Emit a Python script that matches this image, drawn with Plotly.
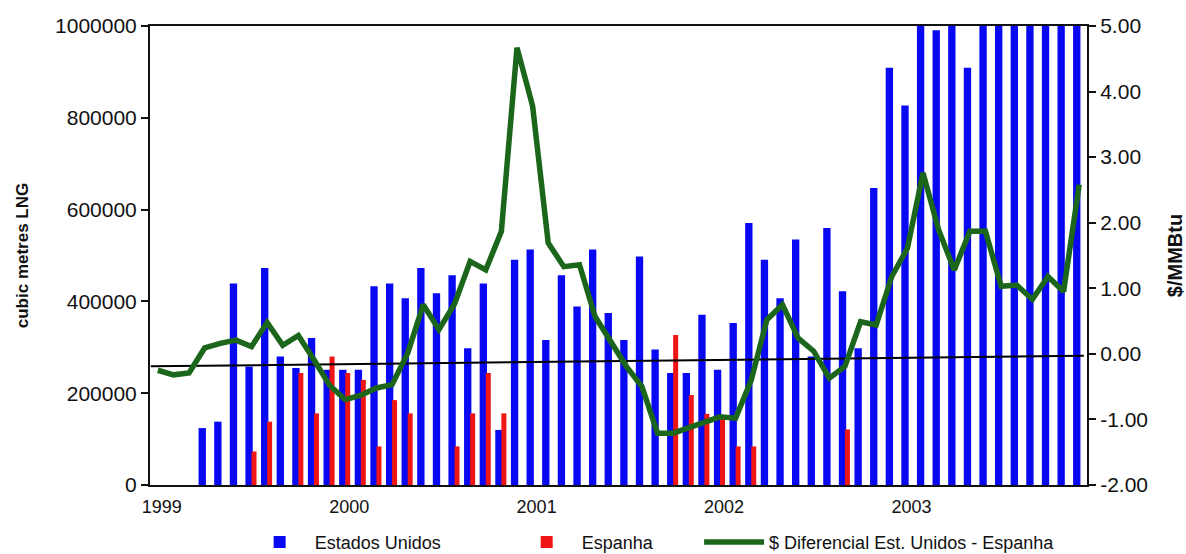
import plotly.graph_objects as go

# ---- data ----
month_index = list(range(60))          # Jan 1999 ... Dec 2003
year_labels = ["1999", "2000", "2001", "2002", "2003"]
year_ticks = [0, 12, 24, 36, 48]

usa = [None, None, None, 124000, 138000, 439000, 258000, 473000, 280000, 255000,
       320000, 251000, 251000, 251000, 433000, 439000, 407000, 473000, 418000, 457000,
       298000, 439000, 120000, 491000, 513000, 316000, 457000, 389000, 513000, 375000,
       316000, 498000, 295000, 244000, 244000, 371000, 251000, 353000, 571000, 491000,
       407000, 535000, 280000, 560000, 422000, 298000, 647000, 909000, 827000, 1010000,
       991000, 1010000, 909000, 1010000, 1010000, 1010000, 1010000, 1010000, 1010000, 1010000]

spain = [None, None, None, None, None, None, 73000, 138000, None, 244000,
         156000, 280000, 244000, 229000, 84000, 185000, 156000, None, None, 84000,
         156000, 244000, 156000, None, None, None, None, None, None, None,
         None, None, None, 327000, 196000, 155000, 150000, 84000, 84000, None,
         None, None, None, None, 121000, None, None, None, None, None,
         None, None, None, None, None, None, None, None, None, None]

diff = [-0.25, -0.32, -0.29, 0.09, 0.16, 0.21, 0.11, 0.48, 0.13, 0.28,
        -0.09, -0.48, -0.70, -0.63, -0.52, -0.47, 0.01, 0.75, 0.37, 0.76,
        1.41, 1.28, 1.87, 4.67, 3.78, 1.69, 1.33, 1.36, 0.57, 0.19,
        -0.19, -0.50, -1.21, -1.21, -1.13, -1.06, -0.96, -0.98, -0.40, 0.52,
        0.75, 0.24, 0.04, -0.37, -0.19, 0.49, 0.44, 1.18, 1.61, 2.76,
        1.89, 1.28, 1.87, 1.87, 1.03, 1.05, 0.83, 1.18, 0.95, 2.58]

trend_x = [-0.45, 59.3]
trend_vals = [-0.19, -0.03]

left_ticks = [0, 200000, 400000, 600000, 800000, 1000000]
left_labels = ["0", "200000", "400000", "600000", "800000", "1000000"]
right_ticks = [-2, -1, 0, 1, 2, 3, 4, 5]
right_labels = ["-2.00", "-1.00", "0.00", "1.00", "2.00", "3.00", "4.00", "5.00"]

BLUE = "#0808f2"
RED = "#f01515"
GREEN = "#1b661b"
FONT = "Arial, Liberation Sans, sans-serif"

fig = go.Figure()
fig.add_trace(go.Bar(x=month_index, y=usa, name="Estados Unidos",
                     marker=dict(color=BLUE, line=dict(width=0)),
                     offset=-0.39, width=0.47, cliponaxis=False, legend="legend"))
fig.add_trace(go.Bar(x=month_index, y=spain, name="Espanha",
                     marker=dict(color=RED, line=dict(width=0)),
                     offset=0.0, width=0.32, legend="legend2"))
fig.add_trace(go.Scatter(x=trend_x, y=trend_vals, mode="lines", yaxis="y2",
                         line=dict(color="black", width=2), showlegend=False,
                         hoverinfo="skip"))
fig.add_trace(go.Scatter(x=month_index, y=diff, mode="lines", yaxis="y2",
                         name="$ Diferencial Est. Unidos - Espanha",
                         line=dict(color=GREEN, width=5.5), legend="legend3"))

legend_common = dict(orientation="h", yanchor="middle", xanchor="left",
                     y=-0.125, bgcolor="rgba(0,0,0,0)", itemwidth=60,
                     font=dict(family=FONT, size=18, color="#111"))

fig.update_layout(
    width=1186, height=554,
    margin=dict(l=150, r=99, t=26, b=69, autoexpand=False),
    paper_bgcolor="white", plot_bgcolor="white",
    barmode="overlay",
    font=dict(family=FONT, color="#111"),
    legend=dict(x=0.101, **legend_common),
    legend2=dict(x=0.386, **legend_common),
    legend3=dict(x=0.586, **legend_common),
    xaxis=dict(range=[-0.5, 59.5], tickvals=year_ticks, ticktext=year_labels,
               ticks="", showgrid=False, zeroline=False,
               showline=True, linecolor="#111", linewidth=2, mirror=True,
               tickfont=dict(size=18), ticklabelshift=4, ticklabelstandoff=4),
    yaxis=dict(range=[0, 1000000], tickvals=left_ticks, ticktext=left_labels,
               ticks="outside", ticklen=7, tickwidth=1.5, tickcolor="#111",
               showgrid=False, zeroline=False,
               showline=True, linecolor="#111", linewidth=2,
               tickfont=dict(size=21),
               title=dict(text="<b>cubic metres LNG</b>", font=dict(size=17),
                          standoff=22)),
    yaxis2=dict(overlaying="y", side="right", range=[-2, 5],
                tickvals=right_ticks, ticktext=right_labels,
                ticks="outside", ticklen=7, tickwidth=1.5, tickcolor="#111",
                showgrid=False, zeroline=False,
                showline=True, linecolor="#111", linewidth=2,
                tickfont=dict(size=21),
                title=dict(text="<b>$/MMBtu</b>", font=dict(size=20),
                           standoff=25)),
)

fig.write_html("out.html", config={"displayModeBar": False},
               post_script="document.body.style.margin='0';")
